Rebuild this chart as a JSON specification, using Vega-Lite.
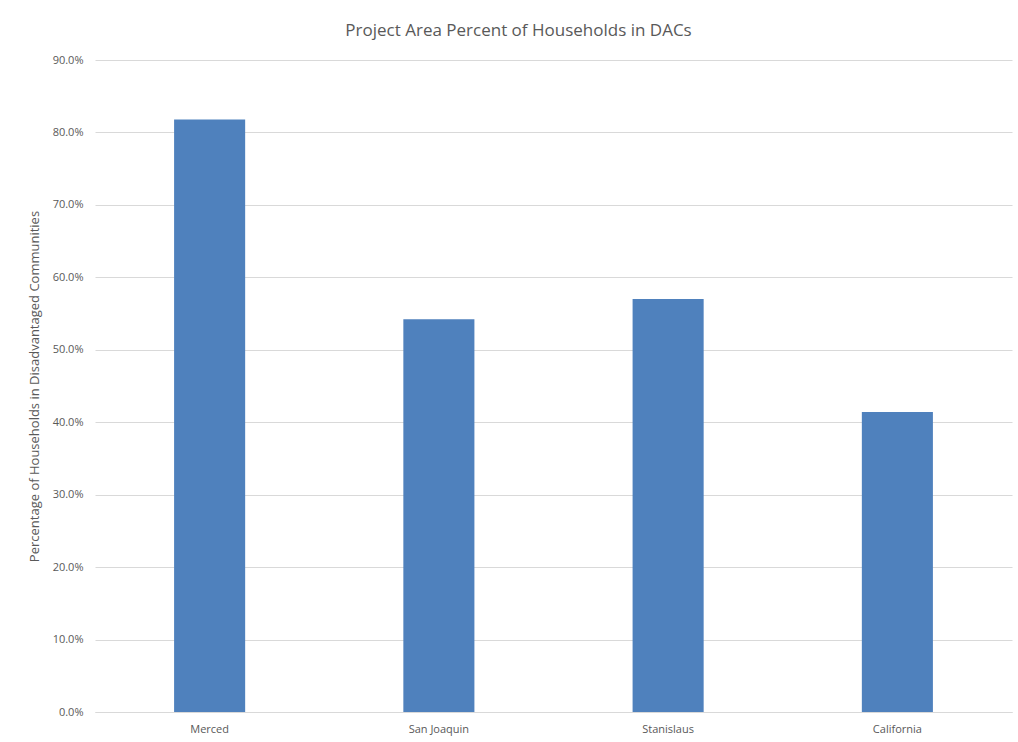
{
  "$schema": "https://vega.github.io/schema/vega-lite/v6.json",
  "autosize": {"type": "none"},
  "padding": {"left": 95, "top": 60, "right": 6, "bottom": 30},
  "width": 917,
  "height": 652,
  "background": "white",
  "title": {
    "text": "Project Area Percent of Households in DACs",
    "font": "Open Sans",
    "fontSize": 17,
    "fontWeight": "normal",
    "color": "#595959",
    "anchor": "middle",
    "frame": "group",
    "dx": -35,
    "offset": 14
  },
  "data": {
    "values": [
      {"region": "Merced", "pct": 0.818},
      {"region": "San Joaquin", "pct": 0.542},
      {"region": "Stanislaus", "pct": 0.570},
      {"region": "California", "pct": 0.414}
    ]
  },
  "mark": {"type": "bar", "color": "#4F81BD"},
  "encoding": {
    "x": {
      "field": "region",
      "type": "nominal",
      "sort": null,
      "scale": {"paddingInner": 0.69, "paddingOuter": 0.345},
      "axis": {
        "title": null,
        "labelAngle": 0,
        "labelFont": "Open Sans",
        "labelFontSize": 11,
        "labelColor": "#595959",
        "labelPadding": 11,
        "ticks": false,
        "domainColor": "#D9D9D9",
        "domainWidth": 1
      }
    },
    "y": {
      "field": "pct",
      "type": "quantitative",
      "scale": {"domain": [0, 0.9], "nice": false},
      "axis": {
        "title": "Percentage of Households in Disadvantaged Communities",
        "titleFont": "Open Sans",
        "titleFontSize": 13,
        "titleFontWeight": "normal",
        "titleColor": "#595959",
        "titlePadding": 11,
        "values": [0, 0.1, 0.2, 0.3, 0.4, 0.5, 0.6, 0.7, 0.8, 0.9],
        "format": ".1%",
        "labelFont": "Open Sans",
        "labelFontSize": 11,
        "labelColor": "#595959",
        "labelPadding": 12,
        "ticks": false,
        "domain": false,
        "grid": true,
        "gridColor": "#D9D9D9",
        "gridWidth": 1
      }
    }
  },
  "config": {"view": {"stroke": null}}
}
